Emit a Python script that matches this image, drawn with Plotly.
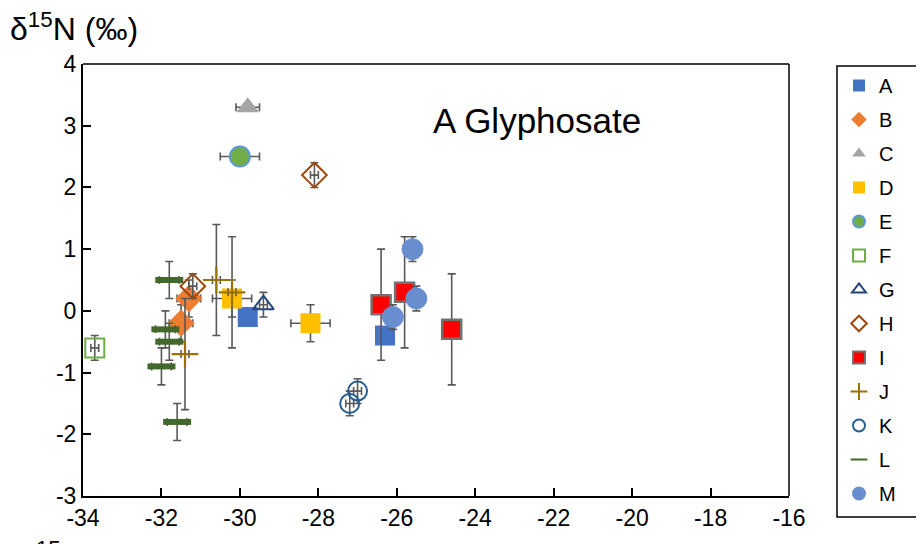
import plotly.graph_objects as go

# ---- data (δ13C x, δ15N y, with error bars) ----
series_names = ["A", "B", "C", "D", "E", "F", "G", "H", "I", "J", "K", "L", "M"]

A_x = [-29.8, -26.3]; A_y = [-0.1, -0.4]; A_ex = [0.1, 0.1]; A_ey = [0.1, 0.1]
B_x = [-31.5, -31.3]; B_y = [-0.2, 0.2]; B_ex = [0.3, 0.3]; B_ey = [0.3, 0.3]
C_x = [-29.8]; C_y = [3.3]; C_ex = [0.3]; C_ey = [0.05]
D_x = [-30.2, -28.2]; D_y = [0.2, -0.2]; D_ex = [0.5, 0.5]; D_ey = [0.3, 0.3]
E_x = [-30.0]; E_y = [2.5]; E_ex = [0.5]; E_ey = [0.05]
F_x = [-33.7]; F_y = [-0.6]; F_ex = [0.1]; F_ey = [0.2]
G_x = [-29.4]; G_y = [0.1]; G_ex = [0.1]; G_ey = [0.2]
H_x = [-31.2, -28.1]; H_y = [0.4, 2.2]; H_ex = [0.1, 0.1]; H_ey = [0.2, 0.2]
I_x = [-26.4, -25.8, -24.6]; I_y = [0.1, 0.3, -0.3]; I_ex = [0.1, 0.1, 0.1]; I_ey = [0.9, 0.9, 0.9]
J_x = [-30.6, -31.4, -30.2]; J_y = [0.5, -0.7, 0.3]; J_ex = [0.1, 0.1, 0.1]; J_ey = [0.9, 0.9, 0.9]
K_x = [-27.0, -27.2]; K_y = [-1.3, -1.5]; K_ex = [0.1, 0.1]; K_ey = [0.2, 0.2]
L_x = [-31.8, -31.9, -31.8, -32.0, -31.6]; L_y = [0.5, -0.3, -0.5, -0.9, -1.8]
L_ex = [0.25, 0.25, 0.25, 0.25, 0.25]; L_ey = [0.3, 0.3, 0.3, 0.3, 0.3]
M_x = [-25.6, -25.5, -26.1]; M_y = [1.0, 0.2, -0.1]; M_ex = [0.1, 0.1, 0.1]; M_ey = [0.2, 0.2, 0.2]

x_ticks = [-34, -32, -30, -28, -26, -24, -22, -20, -18, -16]
y_ticks = [-3, -2, -1, 0, 1, 2, 3, 4]

data = {
    "A": (A_x, A_y, A_ex, A_ey), "B": (B_x, B_y, B_ex, B_ey), "C": (C_x, C_y, C_ex, C_ey),
    "D": (D_x, D_y, D_ex, D_ey), "E": (E_x, E_y, E_ex, E_ey), "F": (F_x, F_y, F_ex, F_ey),
    "G": (G_x, G_y, G_ex, G_ey), "H": (H_x, H_y, H_ex, H_ey), "I": (I_x, I_y, I_ex, I_ey),
    "J": (J_x, J_y, J_ex, J_ey), "K": (K_x, K_y, K_ex, K_ey), "L": (L_x, L_y, L_ex, L_ey),
    "M": (M_x, M_y, M_ex, M_ey),
}

styles = {
    "A": dict(symbol="square", size=20, color="#4472C4", line=dict(width=0, color="#4472C4")),
    "B": dict(symbol="diamond", size=21, color="#ED7D31", line=dict(width=0, color="#ED7D31")),
    "C": dict(symbol="triangle-up", size=20, color="#A5A5A5", line=dict(width=0, color="#A5A5A5")),
    "D": dict(symbol="square", size=20, color="#FFC000", line=dict(width=0, color="#FFC000")),
    "E": dict(symbol="circle", size=20, color="#70AD47", line=dict(width=2, color="#5B9BD5")),
    "F": dict(symbol="square-open", size=19, color="#70AD47", line=dict(width=2, color="#70AD47")),
    "G": dict(symbol="triangle-up-open", size=18, color="#264478", line=dict(width=2, color="#264478")),
    "H": dict(symbol="diamond-open", size=19, color="#9E480E", line=dict(width=2, color="#9E480E")),
    "I": dict(symbol="square", size=19, color="#FF0000", line=dict(width=2.5, color="#767171")),
    "J": dict(symbol="cross-thin", size=19, color="#997300", line=dict(width=2.2, color="#997300")),
    "K": dict(symbol="circle-open", size=19, color="#255E91", line=dict(width=2, color="#255E91")),
    "L": dict(symbol="line-ew", size=20, color="#43682B", line=dict(width=6, color="#43682B")),
    "M": dict(symbol="circle", size=21, color="#698ED0", line=dict(width=1, color="#6A8FD0")),
}

ERR_COLOR = "#595959"

fig = go.Figure()
for name in series_names:
    xs, ys, exs, eys = data[name]
    fig.add_trace(go.Scatter(
        x=xs, y=ys, mode="markers", name=name, legendgroup=name,
        marker=styles[name],
        error_x=dict(type="data", array=exs, visible=True, color=ERR_COLOR, thickness=1.6, width=4),
        error_y=dict(type="data", array=eys, visible=True, color=ERR_COLOR, thickness=1.6, width=4),
    ))

FONT = "Liberation Sans, Arial, sans-serif"

# page is offset by the 8px default body margin; figure is sized to fill the rest
PX0, PY0, PW, PH = 83, 496, 706, 432  # plot-area origin / size in page pixels


def px_x(p):
    return (p - PX0) / PW


def px_y(p):
    return (PY0 - p) / PH


fig.update_layout(
    width=916, height=536,
    margin=dict(l=75, r=135, t=56, b=48),
    paper_bgcolor="white", plot_bgcolor="white",
    font=dict(family=FONT, color="black", size=23),
    showlegend=True,
    legend=dict(
        x=px_x(839), y=px_y(66), xanchor="left", yanchor="top",
        bgcolor="rgba(0,0,0,0)", borderwidth=0,
        font=dict(size=20, family=FONT),
        tracegroupgap=5, itemsizing="constant",
        maxheight=480,
    ),
    xaxis=dict(
        range=[-34, -16], tickvals=x_ticks, ticktext=[str(v) for v in x_ticks],
        showgrid=False, zeroline=False, showline=True, linecolor="black", linewidth=2,
        ticks="inside", ticklen=8, tickwidth=1.5, tickcolor="black",
        tickfont=dict(size=23, family=FONT), mirror=False,
    ),
    yaxis=dict(
        range=[-3, 4], tickvals=y_ticks, ticktext=[str(v) for v in y_ticks],
        showgrid=False, zeroline=False, showline=True, linecolor="black", linewidth=2,
        ticks="inside", ticklen=8, tickwidth=1.5, tickcolor="black",
        tickfont=dict(size=23, family=FONT), mirror=False,
    ),
    shapes=[
        dict(type="line", xref="paper", yref="paper", x0=0, x1=1, y0=1, y1=1,
             line=dict(color="black", width=1.5)),
        dict(type="line", xref="paper", yref="paper", x0=1, x1=1, y0=0, y1=1,
             line=dict(color="black", width=1.5)),
        # legend frame
        dict(type="rect", xref="paper", yref="paper", layer="below",
             x0=px_x(837), x1=px_x(921), y0=px_y(517), y1=px_y(66),
             line=dict(color="black", width=1.5), fillcolor="rgba(0,0,0,0)"),
    ],
    annotations=[
        dict(text="A Glyphosate", xref="paper", yref="paper", x=px_x(431), y=px_y(121),
             xanchor="left", yanchor="middle", showarrow=False,
             font=dict(size=35, family=FONT)),
        dict(text="δ<sup>15</sup>N (‰)", xref="paper", yref="paper",
             x=px_x(8), y=px_y(5), xanchor="left", yanchor="top",
             showarrow=False, font=dict(size=32, family=FONT)),
        dict(text="δ<sup>15</sup>N (‰)", xref="paper", yref="paper",
             x=px_x(16), y=px_y(534), xanchor="left", yanchor="top",
             showarrow=False, font=dict(size=32, family=FONT)),
    ],
)

fig.write_html("out.html")
